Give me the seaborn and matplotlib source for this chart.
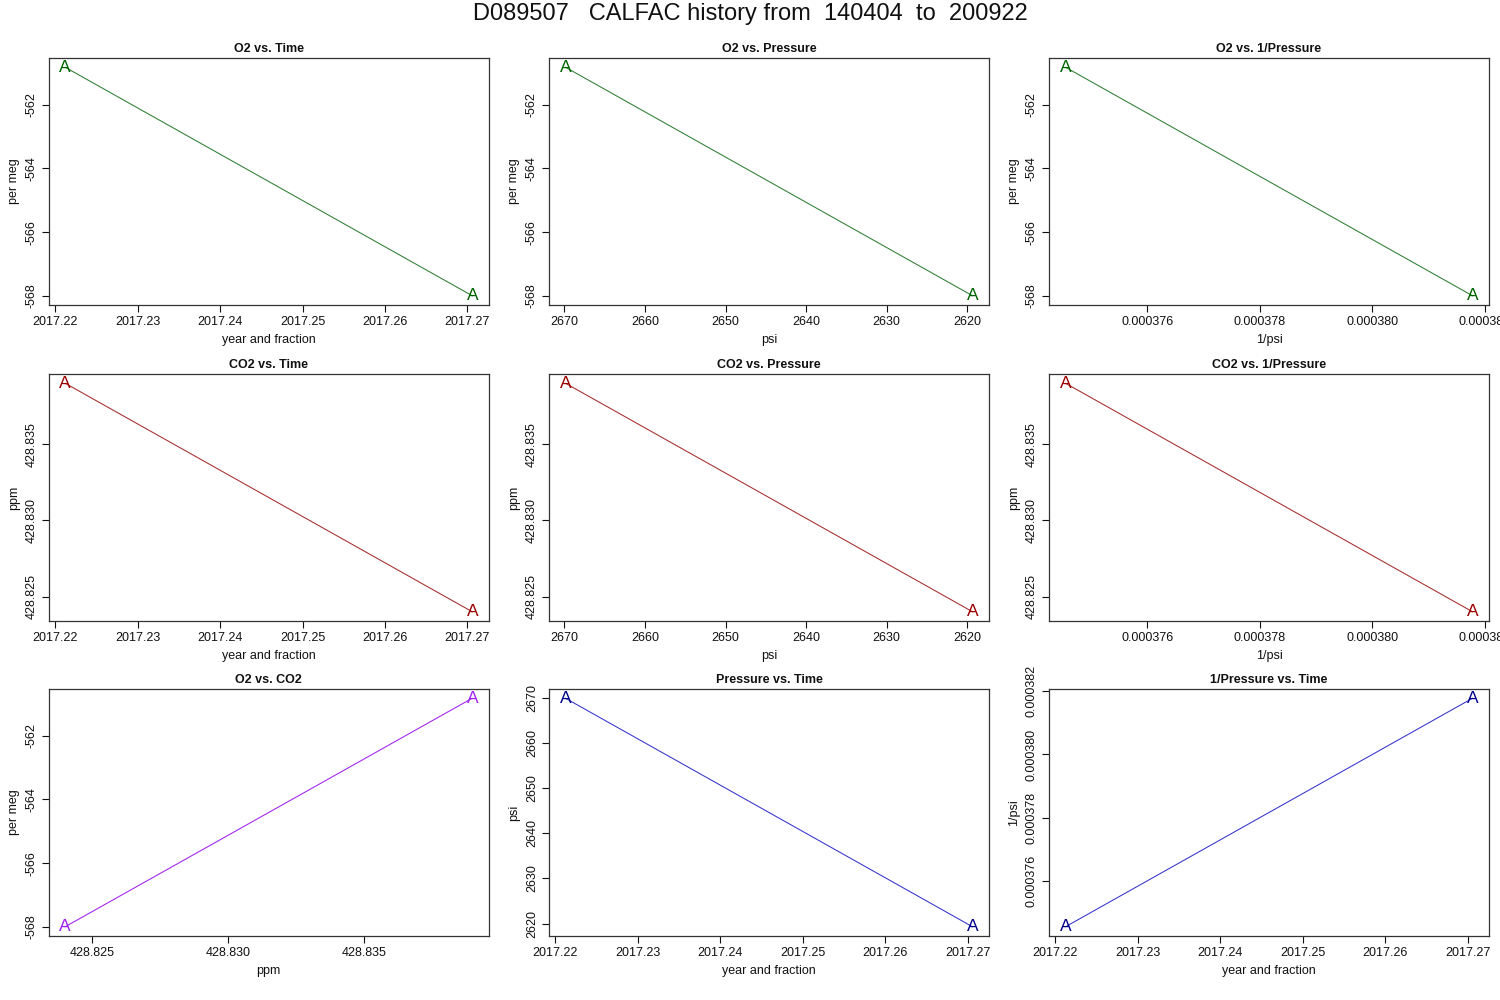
import matplotlib
matplotlib.use("Agg")
import matplotlib.pyplot as plt
import matplotlib.ticker as mticker
import seaborn as sns
import pandas as pd
import numpy as np

# ---- data (two calibration records) ----
time_yr = [2017.2212, 2017.2706]
o2_permeg = [-560.82, -568.00]
co2_ppm = [428.8390, 428.8240]
pressure_psi = [2669.9, 2619.3]
inv_psi = [1.0 / p for p in pressure_psi]
point_labels = ["A", "A"]

main_title = "D089507   CALFAC history from  140404  to  200922"

sns.set_theme(style="ticks")
plt.rcParams['font.family'] = ['Liberation Sans', 'DejaVu Sans']

df = pd.DataFrame({
    "time": time_yr, "o2": o2_permeg, "co2": co2_ppm,
    "psi": pressure_psi, "ipsi": inv_psi, "lab": point_labels,
})

GREEN = "#006400"
RED = "#9B0000"
BLUE = "#00008B"
PURPLE = "#A020F0"
LGREEN = "#2E7D32"
LRED = "#A52A2A"
LBLUE = "#3333CC"

panels = [
    ("time", "o2", "O2 vs. Time", "year and fraction", "per meg", GREEN, LGREEN, 0.01, "%.2f", 2, "%d", False),
    ("psi", "o2", "O2 vs. Pressure", "psi", "per meg", GREEN, LGREEN, 10, "%d", 2, "%d", True),
    ("ipsi", "o2", "O2 vs. 1/Pressure", "1/psi", "per meg", GREEN, LGREEN, 0.000002, "%.6f", 2, "%d", False),
    ("time", "co2", "CO2 vs. Time", "year and fraction", "ppm", RED, LRED, 0.01, "%.2f", 0.005, "%.3f", False),
    ("psi", "co2", "CO2 vs. Pressure", "psi", "ppm", RED, LRED, 10, "%d", 0.005, "%.3f", True),
    ("ipsi", "co2", "CO2 vs. 1/Pressure", "1/psi", "ppm", RED, LRED, 0.000002, "%.6f", 0.005, "%.3f", False),
    ("co2", "o2", "O2 vs. CO2", "ppm", "per meg", PURPLE, PURPLE, 0.005, "%.3f", 2, "%d", False),
    ("time", "psi", "Pressure vs. Time", "year and fraction", "psi", BLUE, LBLUE, 0.01, "%.2f", 10, "%d", False),
    ("time", "ipsi", "1/Pressure vs. Time", "year and fraction", "1/psi", BLUE, LBLUE, 0.01, "%.2f", 0.000002, "%.6f", False),
]

W, H = 1500, 1000
fig = plt.figure(figsize=(15, 10), dpi=100)
fig.patch.set_facecolor("white")

col_left = [48.7, 549, 1049]
row_top = [58, 374, 689]
aw, ah = 440, 247

for i, (xc, yc, title, xl, yl, mcol, lcol, xs, xf, ys, yf, inv) in enumerate(panels):
    r, c = divmod(i, 3)
    ax = fig.add_axes([col_left[c] / W, 1 - (row_top[r] + ah) / H, aw / W, ah / H])
    ax.set_facecolor("white")
    sns.lineplot(data=df, x=xc, y=yc, ax=ax, color=lcol, linewidth=0.75,
                 sort=False, estimator=None)
    ax.margins(x=0.04, y=0.04)
    ax.autoscale_view()
    for xv, yv, lab in zip(df[xc], df[yc], df["lab"]):
        ax.text(xv, yv, lab, color=mcol, fontsize=12.5, ha="center", va="center")
    if inv:
        ax.invert_xaxis()
    ax.xaxis.set_major_locator(mticker.MultipleLocator(xs))
    ax.yaxis.set_major_locator(mticker.MultipleLocator(ys))
    ax.xaxis.set_major_formatter(mticker.FormatStrFormatter(xf))
    ax.yaxis.set_major_formatter(mticker.FormatStrFormatter(yf))
    ax.tick_params(axis="both", direction="out", length=5, width=0.8,
                   labelsize=9, colors="#111111", pad=3)
    for lbl in ax.get_yticklabels():
        lbl.set_rotation(90)
        lbl.set_va("center")
    for sp in ax.spines.values():
        sp.set_visible(True)
        sp.set_color("#333333")
        sp.set_linewidth(0.9)
    ax.set_title(title, fontsize=9, fontweight="bold", pad=4, color="#111111")
    ax.set_xlabel(xl, fontsize=9, labelpad=4, color="#111111")
    ax.set_ylabel(yl, fontsize=9, labelpad=4, color="#111111")

fig.text(0.5, 1 - 14 / H, main_title, ha="center", va="center", fontsize=17,
         color="#111111")

fig.savefig("out.png", dpi=100, facecolor="white")
